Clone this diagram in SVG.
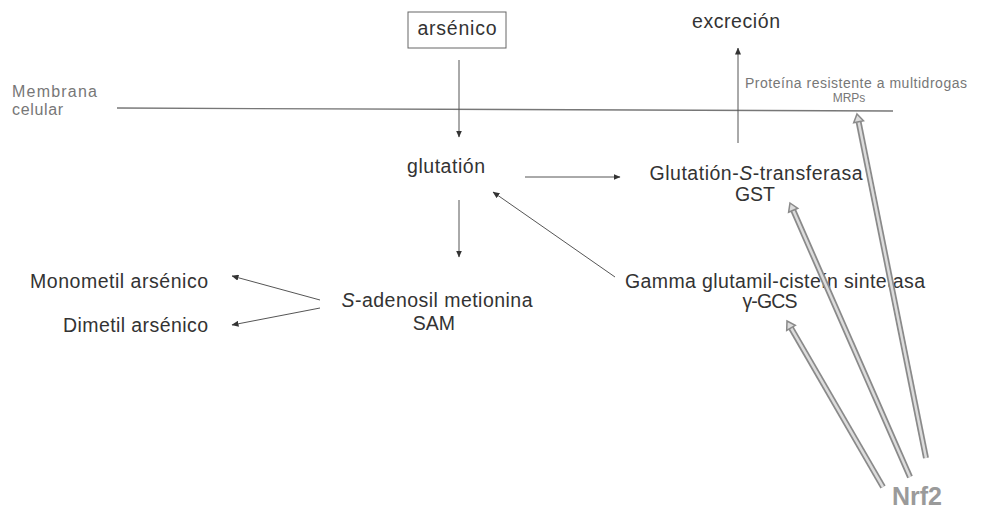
<svg xmlns="http://www.w3.org/2000/svg" width="983" height="509" viewBox="0 0 983 509">
<defs>
<marker id="ah" markerWidth="7" markerHeight="6" refX="6.5" refY="3" orient="auto" markerUnits="userSpaceOnUse">
<path d="M0,0 L7,3 L0,6 Z" fill="#333"/>
</marker>
</defs>
<style>
text{font-family:"Liberation Sans",Arial,sans-serif;fill:#333}
.m{font-size:19.5px}
.s{font-size:14px;fill:#777}
.c{stroke:#555;stroke-width:1;fill:none;marker-end:url(#ah)}
.ho{stroke:#8a8a8a;stroke-width:6;fill:none}
.hi{stroke:#dcdcdc;stroke-width:2.5;fill:none}
.hh{fill:#dcdcdc;stroke:#8a8a8a;stroke-width:1.5}
</style>
<rect width="983" height="509" fill="#fff"/>
<g id="membrana">
<line x1="117" y1="108" x2="893" y2="111" stroke="#777" stroke-width="1.3"/>
<text x="12" y="97" style="font-size:16px;fill:#777" textLength="85" lengthAdjust="spacing">Membrana</text>
<text x="12" y="115" style="font-size:16px;fill:#777" textLength="51" lengthAdjust="spacing">celular</text>
</g>
<g id="connectors">
<line class="c" x1="459" y1="60" x2="459" y2="137"/>
<line class="c" x1="738" y1="143" x2="738" y2="48"/>
<line class="c" x1="525" y1="177" x2="620" y2="177"/>
<line class="c" x1="459" y1="200" x2="459" y2="257"/>
<line class="c" x1="615" y1="277" x2="493" y2="192"/>
<line class="c" x1="320" y1="300" x2="232" y2="276"/>
<line class="c" x1="320" y1="308" x2="232" y2="325"/>
</g>
<g id="arsenico">
<rect x="408" y="12" width="98" height="36" fill="#fff" stroke="#666" stroke-width="1"/>
<text class="m" x="457" y="35" text-anchor="middle" textLength="79" lengthAdjust="spacing">arsénico</text>
</g>
<g id="excrecion">
<text class="m" x="736" y="28" text-anchor="middle" textLength="88" lengthAdjust="spacing">excreción</text>
</g>
<g id="mrp">
<text class="s" x="856" y="88" text-anchor="middle" textLength="222" lengthAdjust="spacing">Proteína resistente a multidrogas</text>
<text class="s" x="849" y="102" text-anchor="middle" style="font-size:12px">MRPs</text>
</g>
<g id="glutation">
<text class="m" x="446" y="173" text-anchor="middle" textLength="78" lengthAdjust="spacing">glutatión</text>
</g>
<g id="gst">
<text class="m" x="756" y="180" text-anchor="middle" textLength="213" lengthAdjust="spacing">Glutatión-<tspan font-style="italic">S</tspan>-transferasa</text>
<text class="m" x="755" y="201" text-anchor="middle" textLength="40" lengthAdjust="spacing">GST</text>
</g>
<g id="sam">
<text class="m" x="437" y="307" text-anchor="middle" textLength="191" lengthAdjust="spacing"><tspan font-style="italic">S</tspan>-adenosil metionina</text>
<text class="m" x="434" y="330" text-anchor="middle">SAM</text>
</g>
<g id="monometil">
<text class="m" x="30" y="288" textLength="178" lengthAdjust="spacing">Monometil arsénico</text>
</g>
<g id="dimetil">
<text class="m" x="63" y="332" textLength="145" lengthAdjust="spacing">Dimetil arsénico</text>
</g>
<g id="gcs">
<text class="m" x="775" y="288" text-anchor="middle" textLength="300" lengthAdjust="spacing">Gamma glutamil-cisteín sintetasa</text>
<text class="m" x="770" y="308" text-anchor="middle" textLength="55" lengthAdjust="spacing">γ-GCS</text>
</g>
<g id="nrf2-arrows">
<line class="ho" x1="926" y1="458" x2="858.6" y2="121.8"/>
<line class="hi" x1="926" y1="458" x2="858.6" y2="121.8"/>
<polygon class="hh" points="857,114 863.5,120.8 853.7,122.8"/>
<line class="ho" x1="910" y1="477" x2="793.2" y2="210.3"/>
<line class="hi" x1="910" y1="477" x2="793.2" y2="210.3"/>
<polygon class="hh" points="790,203 797.8,208.3 788.6,212.3"/>
<line class="ho" x1="883" y1="487" x2="791" y2="327.9"/>
<line class="hi" x1="883" y1="487" x2="791" y2="327.9"/>
<polygon class="hh" points="787,321 795.3,325.4 786.7,330.4"/>
</g>
<g id="nrf2">
<text x="892" y="505" font-size="25" font-weight="bold" style="fill:#9a9a9a" textLength="50" lengthAdjust="spacingAndGlyphs">Nrf2</text>
</g>
</svg>
